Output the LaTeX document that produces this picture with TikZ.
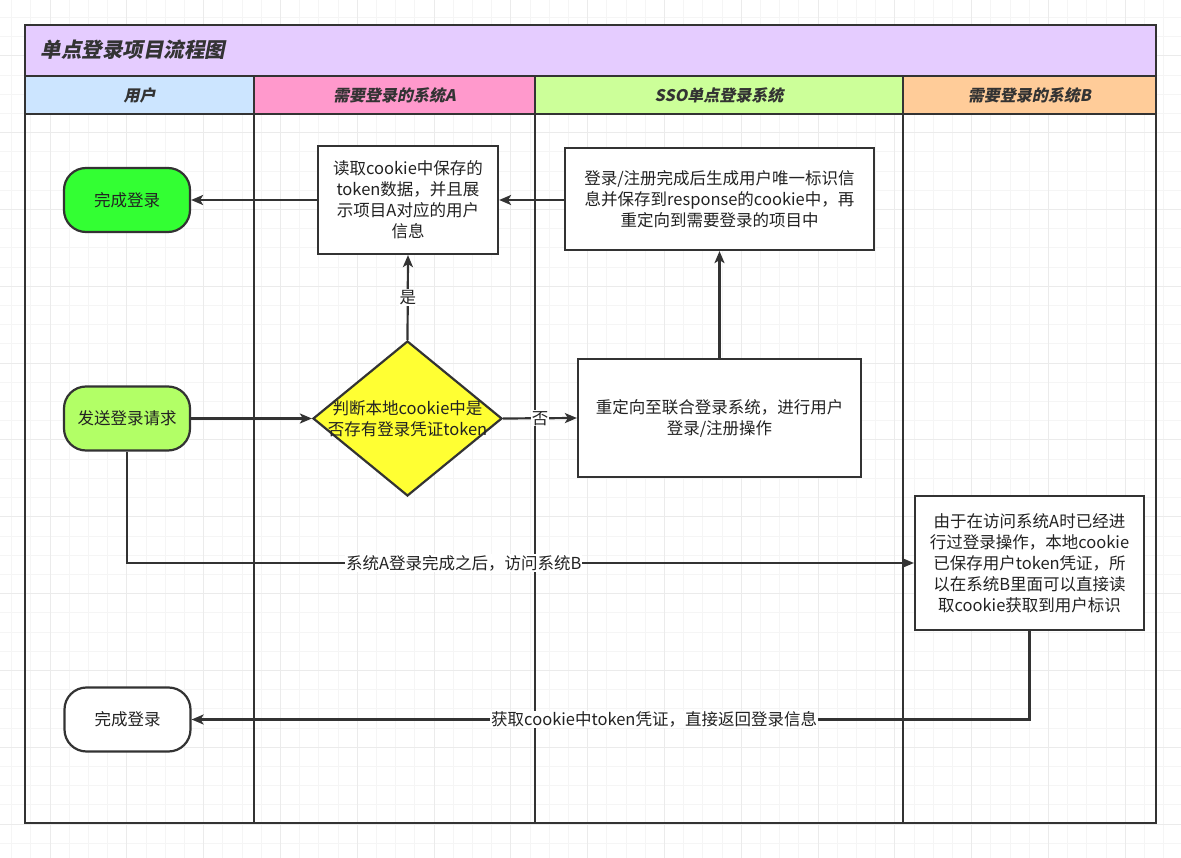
\documentclass[tikz,border=0pt]{standalone}
\usepackage{fontspec}
\setmainfont{Noto Sans CJK SC}
\newfontfamily\headfont[FakeSlant=0.2]{Noto Sans CJK SC}
\usetikzlibrary{arrows.meta,shapes.geometric}

\definecolor{linec}{HTML}{333333}
\definecolor{textc}{HTML}{222222}
\definecolor{gridminor}{HTML}{F5F5F5}
\definecolor{gridmajor}{HTML}{EBEBEB}
\definecolor{titlefill}{HTML}{E5CCFF}
\definecolor{userfill}{HTML}{CCE5FF}
\definecolor{afill}{HTML}{FF99CC}
\definecolor{ssofill}{HTML}{CCFF99}
\definecolor{bfill}{HTML}{FFCC99}
\definecolor{donefill}{HTML}{33FF33}
\definecolor{sendfill}{HTML}{B2FF66}
\definecolor{decfill}{HTML}{FFFF33}

\tikzset{
  pool/.style={draw=linec, line width=2.4pt},
  bodytext/.style={font=\fontsize{16.5}{21}\selectfont, text=textc},
  headtext/.style={font=\headfont\bfseries\fontsize{16}{20}\selectfont, text=linec},
  procbox/.style={bodytext, draw=linec, line width=2.2pt, fill=white, align=center, inner sep=0pt},
  termbox/.style={procbox, rounded corners=22pt, minimum width=126pt, minimum height=64pt},
  decbox/.style={draw=linec, line width=2.2pt, fill=decfill, shape=diamond, inner sep=0pt,
    minimum width=189pt, minimum height=155pt},
  edge/.style={draw=linec, line width=2.2pt, -{Stealth[length=12pt,width=10pt,inset=3pt]}},
  lbl/.style={bodytext, fill=white, inner sep=1pt},
}

\begin{document}
\begin{tikzpicture}[x=1pt,y=-1pt]
\useasboundingbox (0,0) rectangle (1181,858);
\fill[white] (0,0) rectangle (1181,858);

% background grid
\foreach \i in {0,...,61} {
  \draw[gridminor, line width=1pt] ({11.7+19.2*\i},0) -- ({11.7+19.2*\i},858);
}
\foreach \j in {0,...,45} {
  \draw[gridminor, line width=1pt] (0,{17.6+19.2*\j}) -- (1181,{17.6+19.2*\j});
}
\foreach \i in {0,...,15} {
  \draw[gridmajor, line width=1pt] ({50+76.8*\i},0) -- ({50+76.8*\i},858);
}
\foreach \j in {0,...,11} {
  \draw[gridmajor, line width=1pt] (0,{56+76.8*\j}) -- (1181,{56+76.8*\j});
}

% pool: title bar and lane headers
\fill[titlefill] (25,25) rectangle (1156,76);
\fill[userfill] (25,76) rectangle (254,114);
\fill[afill] (254,76) rectangle (535,114);
\fill[ssofill] (535,76) rectangle (903,114);
\fill[bfill] (903,76) rectangle (1156,114);
\draw[pool] (25,76) -- (1156,76);
\draw[pool] (25,114) -- (1156,114);
\draw[pool] (254,76) -- (254,823);
\draw[pool] (535,76) -- (535,823);
\draw[pool] (903,76) -- (903,823);
\draw[pool] (25,25) rectangle (1156,823);

\node[headtext, font=\headfont\bfseries\fontsize{20.5}{24}\selectfont, anchor=west] (title) at (37,50) {单点登录项目流程图};
\node[headtext] (laneuser) at (139.5,95) {用户};
\node[headtext] (lanea) at (394.5,95) {需要登录的系统A};
\node[headtext] (lanesso) at (719,95) {SSO单点登录系统};
\node[headtext] (laneb) at (1029.5,95) {需要登录的系统B};

% nodes
\node[termbox, fill=donefill] (done1) at (127,200) {完成登录};
\node[procbox, minimum width=180pt, minimum height=108pt] (readbox) at (408,200)
  {读取cookie中保存的\\token数据，并且展\\示项目A对应的用户\\信息};
\node[procbox, minimum width=309pt, minimum height=102pt] (ssobox) at (719.5,199)
  {登录/注册完成后生成用户唯一标识信\\息并保存到response的cookie中，再\\重定向到需要登录的项目中};
\node[termbox, fill=sendfill] (send) at (127,418.5) {发送登录请求};
\node[decbox] (dia) at (407.5,418.5) {};
\node[bodytext, align=center] (diatext) at (dia.center) {判断本地cookie中是\\否存有登录凭证token};
\node[procbox, minimum width=283pt, minimum height=118pt] (redir) at (719.5,418)
  {重定向至联合登录系统，进行用户\\登录/注册操作};
\node[procbox, minimum width=229pt, minimum height=134pt] (note) at (1029.5,563)
  {由于在访问系统A时已经进\\行过登录操作，本地cookie\\已保存用户token凭证，所\\以在系统B里面可以直接读\\取cookie获取到用户标识};
\node[termbox] (done2) at (127.5,719.5) {完成登录};

% connectors
\draw[edge] (readbox.west) -- (done1.east);
\draw[edge] (ssobox.west |- readbox.east) -- (readbox.east);
\draw[edge] (dia.north) -- node[lbl] (yes) {是} (readbox.south);
\draw[edge] (send.east) -- (dia.west);
\draw[edge] (dia.east) -- node[lbl] (no) {否} (redir.west);
\draw[edge] (redir.north) -- (ssobox.south -| redir.north);
\draw[edge] (send.south) |- node[lbl, pos=0.714] (tob) {系统A登录完成之后，访问系统B} (note.west);
\draw[edge] (note.south) |- node[lbl, pos=0.724] (back) {获取cookie中token凭证，直接返回登录信息} (done2.east);
\end{tikzpicture}
\end{document}
